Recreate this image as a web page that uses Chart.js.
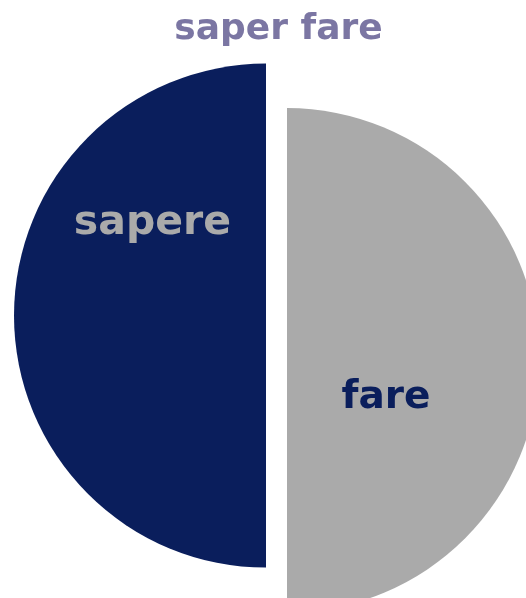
<!DOCTYPE html>
<html lang="it">
<head>
    <meta charset="UTF-8">
    <title>saper fare</title>
    <script src="https://cdn.jsdelivr.net/npm/chart.js"></script>
    <style>
        body { margin: 0; background: #fff; }
    </style>
</head>
<body>
    <canvas id="pieChart" width="526" height="598"></canvas>
    <script>
        // data
        const labels = ['sapere', 'fare'];
        const values = [50, 50];

        // styling
        const sliceColors = ['#0a1e5c', '#aaaaaa'];
        const labelColors = ['#aaaaaa', '#0a1e5c'];
        const labelSizes = [41, 39];
        // exploded slices: shift of each slice from the pie centre
        const sliceShift = [[-12.5, 0], [8.5, 44.5]];
        // where each label sits, relative to its slice centre
        const labelOffset = [[-113.5, -92], [99, 38]];

        const explodePlugin = {
            id: 'explode',
            afterDatasetsUpdate(chart) {
                const meta = chart.getDatasetMeta(0);
                meta.data.forEach((arc, i) => {
                    arc.x += sliceShift[i][0];
                    arc.y += sliceShift[i][1];
                });
            },
            afterDatasetsDraw(chart) {
                const ctx = chart.ctx;
                const meta = chart.getDatasetMeta(0);
                ctx.save();
                ctx.textAlign = 'center';
                ctx.textBaseline = 'middle';
                meta.data.forEach((arc, i) => {
                    ctx.font = 'bold ' + labelSizes[i] + 'px "DejaVu Sans"';
                    ctx.fillStyle = labelColors[i];
                    ctx.fillText(labels[i], arc.x + labelOffset[i][0], arc.y + labelOffset[i][1]);
                });
                ctx.restore();
            }
        };

        const ctx = document.getElementById('pieChart').getContext('2d');
        const pieChart = new Chart(ctx, {
            type: 'pie',
            data: {
                labels: labels,
                datasets: [{
                    data: values,
                    backgroundColor: sliceColors,
                    borderWidth: 0
                }]
            },
            options: {
                responsive: false,
                animation: false,
                rotation: 180,
                radius: 252,
                layout: { padding: { left: 31, right: 0, top: 0, bottom: 30 } },
                plugins: {
                    legend: { display: false },
                    tooltip: { enabled: false },
                    title: {
                        display: true,
                        text: 'saper fare',
                        color: '#7b76a3',
                        font: { family: 'DejaVu Sans', size: 36, weight: 'bold', lineHeight: 1.2 },
                        padding: { top: 8, bottom: 12 }
                    }
                }
            },
            plugins: [explodePlugin]
        });
    </script>
</body>
</html>
